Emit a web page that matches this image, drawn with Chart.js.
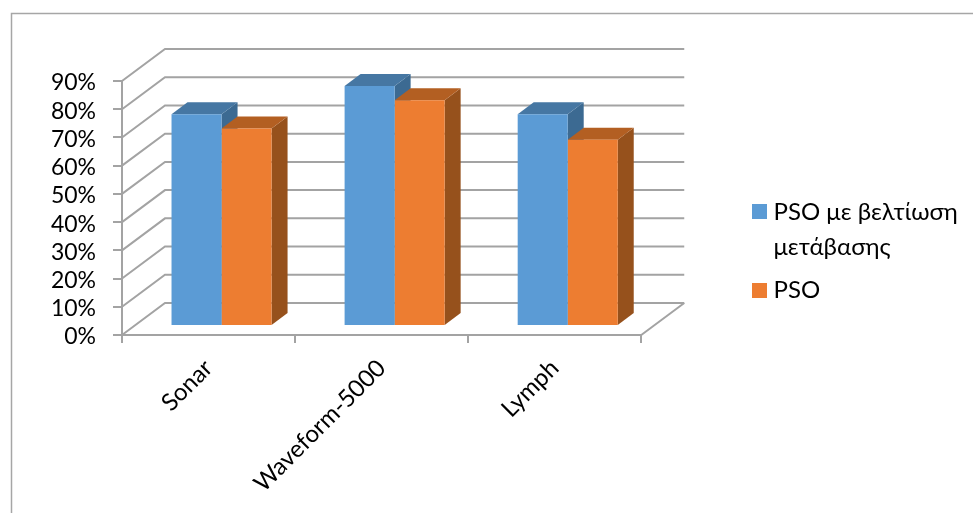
<!DOCTYPE html>
<html>
<head>
<meta charset="utf-8">
<script src="https://cdn.jsdelivr.net/npm/chart.js@4"></script>
<style>
  html,body{margin:0;padding:0;background:#fff;}
  canvas{display:block;}
</style>
</head>
<body>
<canvas id="myChart" width="973" height="513"></canvas>
<script>
// ********chart-data******
const categories=['Sonar','Waveform-5000','Lymph'];
const improvedLabel=['PSO με βελτίωση','μετάβασης'];
const plainLabel='PSO';
const improvedValues=[75,85,75];
const plainValues=[70,80,66];

const BLUE='#5B9BD5', BLUE_TOP='#4677A3', BLUE_SIDE='#3C6A92';
const ORANGE='#ED7D31', ORANGE_TOP='#B35F22', ORANGE_SIDE='#96511C';
const GRID='#A3A3A3';
const FONT='Lato, "Noto Sans", sans-serif';

// depth of the fake 3d box, and where the bars sit inside it
const wallDx=43, wallDy=-32;
const barDx=13, barDy=-9;
const topDx=16, topDy=-12;

function poly(ctx,color,pts){
  ctx.fillStyle=color;
  ctx.beginPath();
  pts.forEach((p,i)=>i?ctx.lineTo(p[0],p[1]):ctx.moveTo(p[0],p[1]));
  ctx.closePath();
  ctx.fill();
}

// legend square as a small canvas, so the text can sit closer than chart.js allows
function swatch(color){
  const c=document.createElement('canvas');
  c.width=15;c.height=15;
  const g=c.getContext('2d');
  g.fillStyle=color;
  g.fillRect(0,0,15,15);
  return c;
}

// ********walls, floor and grid lines******
const boxPlugin={
  id:'box3d',
  afterLayout(chart){
    chart.legend.left=748.5;
    chart.legend.right=973;
    chart.legend.top-=46;
    chart.legend.bottom-=46;
  },
  beforeDraw(chart){
    const ctx=chart.ctx;
    ctx.save();
    ctx.strokeStyle='#A6A6A6';
    ctx.lineWidth=1.5;
    ctx.beginPath();
    ctx.moveTo(11.5,513);
    ctx.lineTo(11.5,13.5);
    ctx.lineTo(973,13.5);
    ctx.stroke();
    ctx.restore();
  },
  beforeDatasetsDraw(chart){
    const ctx=chart.ctx, y=chart.scales.y, a=chart.chartArea;
    ctx.save();
    ctx.strokeStyle=GRID;
    ctx.lineWidth=2;
    y.ticks.forEach(t=>{
      const py=y.getPixelForValue(t.value);
      ctx.beginPath();
      ctx.moveTo(a.left,py);
      ctx.lineTo(a.left+wallDx,py+wallDy);
      ctx.lineTo(a.right+wallDx,py+wallDy);
      ctx.stroke();
    });
    ctx.beginPath();
    ctx.moveTo(a.right,a.bottom);
    ctx.lineTo(a.right+wallDx,a.bottom+wallDy);
    ctx.stroke();
    // side and top faces go under the bars chart.js paints next
    const faces=[[BLUE_TOP,BLUE_SIDE],[ORANGE_TOP,ORANGE_SIDE]];
    chart.data.datasets.forEach((d,i)=>{
      chart.getDatasetMeta(i).data.forEach(b=>{
        const l=b.x-b.width/2+barDx, r=b.x+b.width/2+barDx;
        const t=b.y+barDy, base=b.base+barDy;
        poly(ctx,faces[i][1],[[r,t],[r+topDx,t+topDy],[r+topDx,base+topDy],[r,base]]);
        poly(ctx,faces[i][0],[[l,t],[l+topDx,t+topDy],[r+topDx,t+topDy],[r,t]]);
      });
    });
    ctx.translate(barDx,barDy);
  },
  afterDatasetsDraw(chart){
    chart.ctx.restore();
  }
};

const ctx=document.getElementById('myChart');
new Chart(ctx,{
  type:'bar',
  plugins:[boxPlugin],
  data:{
    labels:categories,
    datasets:[
      {label:improvedLabel,data:improvedValues,backgroundColor:BLUE,pointStyle:swatch(BLUE)},
      {label:plainLabel,data:plainValues,backgroundColor:ORANGE,pointStyle:swatch(ORANGE)}
    ]
  },
  options:{
    responsive:false,
    animation:false,
    events:[],
    layout:{padding:{left:0,top:81,right:118,bottom:0}},
    datasets:{bar:{categoryPercentage:0.578,barPercentage:1}},
    plugins:{
      tooltip:{enabled:false},
      legend:{
        position:'right',
        labels:{
          usePointStyle:true,pointStyleWidth:5,padding:8,color:'#000',
          font:{family:FONT,size:24,lineHeight:1.46}
        }
      }
    },
    scales:{
      x:{
        afterFit(s){s.height=178;},
        grid:{offset:true,drawOnChartArea:false,color:GRID,lineWidth:2,tickLength:8},
        border:{color:GRID,width:2},
        ticks:{minRotation:45,maxRotation:45,padding:11,color:'#000',font:{family:FONT,size:24}}
      },
      y:{
        min:0,max:90,
        afterFit(s){s.width=122;},
        grid:{drawOnChartArea:false,color:GRID,lineWidth:2,tickLength:9},
        border:{color:GRID,width:2},
        ticks:{stepSize:10,autoSkip:false,padding:17,labelOffset:2,color:'#000',font:{family:FONT,size:23},callback:v=>v+'%'}
      }
    }
  }
});
</script>
</body>
</html>
